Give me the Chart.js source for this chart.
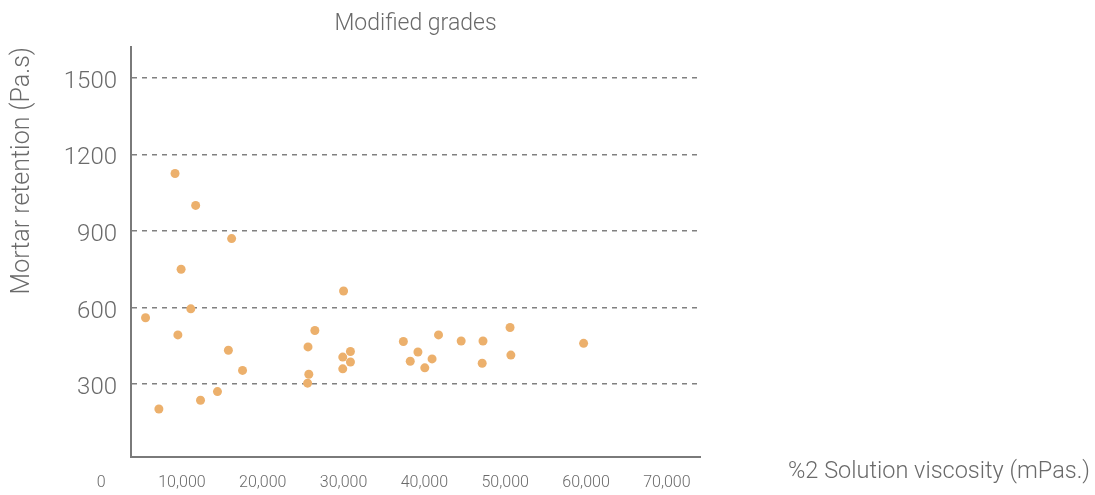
<!DOCTYPE html>
<html>
<head>
<meta charset="utf-8">
<title>Modified grades</title>
<script src="https://cdn.jsdelivr.net/npm/chart.js@4.4.1/dist/chart.umd.min.js"></script>
<style>
  html, body { margin: 0; padding: 0; background: #fff; }
</style>
</head>
<body>
<canvas id="gradesChart" width="1095" height="495"></canvas>
<script>
// %2 solution viscosity (mPas.) and mortar retention (Pa.s) per grade
const viscosity = [9150, 11700, 16150, 9900, 11100, 5500, 9500, 15750, 17500, 14400, 12300, 7150,
    30000, 26450, 25600, 25700, 25550, 29900, 30850, 30850, 29900, 37400, 39200, 38250,
    40050, 40950, 41750, 44550, 47250, 47150, 50600, 50700, 59700];
const retention = [1125, 1000, 870, 750, 595, 560, 493, 433, 354, 271, 237, 203,
    665, 510, 446, 339, 304, 406, 428, 387, 360, 467, 426, 390,
    364, 399, 493, 469, 469, 382, 522, 414, 460];

const xTicks = [0, 10000, 20000, 30000, 40000, 50000, 60000, 70000];
const yTicks = [300, 600, 900, 1200, 1500];

const points = viscosity.map((x, i) => ({ x: x, y: retention[i] }));

const textColor = '#6a6a6a';
const fontFamily = 'Roboto, "Noto Sans", sans-serif';

// chart title and x axis title sit outside the plot box, draw them by hand
const outsideText = {
    id: 'outsideText',
    afterDraw(chart) {
        const { ctx, chartArea } = chart;
        ctx.save();
        ctx.fillStyle = textColor;
        ctx.font = '300 23px ' + fontFamily;
        ctx.textBaseline = 'middle';
        ctx.textAlign = 'center';
        ctx.fillText('Modified grades', (chartArea.left + chartArea.right) / 2, 24);
        ctx.font = '300 23.5px ' + fontFamily;
        ctx.textAlign = 'right';
        ctx.fillText('%2 Solution viscosity (mPas.)', chart.width - 5, 472);
        ctx.restore();
    }
};

new Chart(document.getElementById('gradesChart'), {
    type: 'scatter',
    data: {
        datasets: [{
            label: 'Modified grades',
            data: points,
            backgroundColor: '#ecb06c',
            borderWidth: 0,
            pointRadius: 4.5,
            pointHoverRadius: 4.5
        }]
    },
    options: {
        responsive: false,
        animation: false,
        devicePixelRatio: 1,
        events: [],
        layout: {
            padding: { top: 47, right: 395, bottom: 0, left: 0 }
        },
        plugins: {
            legend: { display: false },
            tooltip: { enabled: false }
        },
        scales: {
            x: {
                type: 'linear',
                position: 'bottom',
                min: 3700,
                max: 74100,
                afterBuildTicks: (scale) => {
                    scale.ticks = xTicks.map(v => ({ value: v }));
                },
                afterFit: (scale) => {
                    scale.height = 38;
                },
                grid: { display: false, drawTicks: false },
                border: { display: true, color: '#7a7a7a', width: 2 },
                ticks: {
                    autoSkip: false,
                    maxRotation: 0,
                    padding: 16,
                    color: textColor,
                    font: { family: fontFamily, size: 16, weight: 300 },
                    callback: (v) => v.toLocaleString('en-US')
                }
            },
            y: {
                min: 15,
                max: 1620,
                afterBuildTicks: (scale) => {
                    scale.ticks = yTicks.map(v => ({ value: v }));
                },
                afterFit: (scale) => {
                    scale.width = 131;
                },
                grid: { color: '#808080', lineWidth: 1.5, drawTicks: false },
                border: { display: true, color: '#7a7a7a', width: 2, dash: [5, 5] },
                ticks: {
                    padding: 14,
                    labelOffset: 4,
                    color: textColor,
                    font: { family: fontFamily, size: 24, weight: 300 },
                    callback: (v) => String(v)
                },
                title: {
                    display: true,
                    text: 'Mortar retention (Pa.s)',
                    align: 'end',
                    color: textColor,
                    padding: { top: 8 },
                    font: { family: fontFamily, size: 25, weight: 300 }
                }
            }
        }
    },
    plugins: [outsideText]
});
</script>
</body>
</html>
